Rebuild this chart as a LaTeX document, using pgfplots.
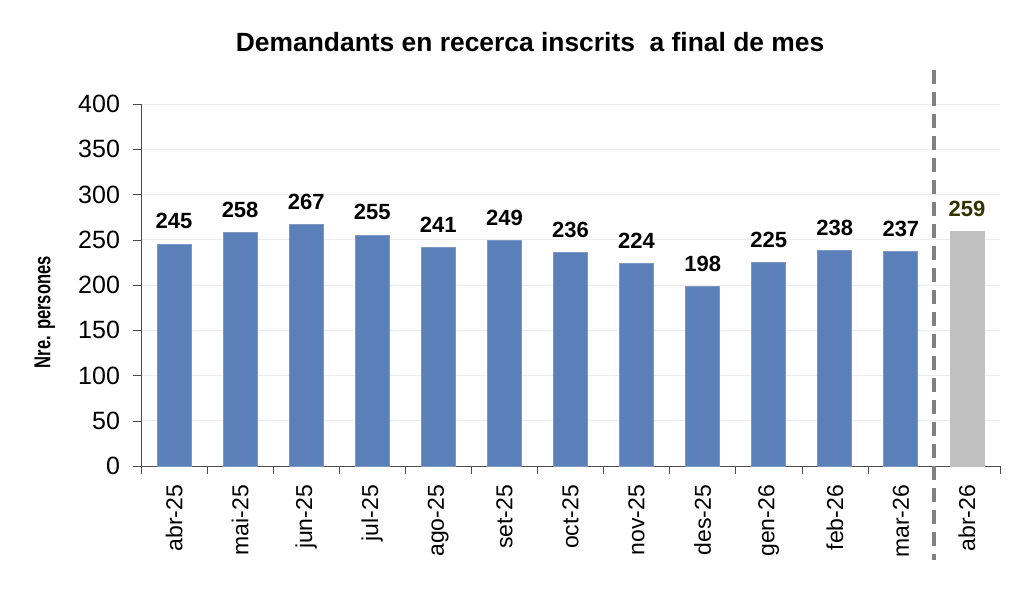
\documentclass[border=0pt]{standalone}
\usepackage{graphicx}
\usepackage{pgfplots}
\pgfplotsset{compat=1.18}
\usepackage{fontspec}
\setmainfont{Liberation Sans}
\definecolor{barblue}{HTML}{5B7FB8}
\definecolor{bargray}{HTML}{C0C0C0}
\definecolor{lblolive}{HTML}{333300}
\definecolor{dashgray}{HTML}{808080}
\begin{document}
\begin{tikzpicture}
\useasboundingbox (-70.5pt,-71pt) rectangle (446.5pt,233pt);
\begin{axis}[
  scale only axis,
  width=429.5pt, height=181pt,
  xmin=-0.5, xmax=12.5,
  ymin=0, ymax=400,
  ytick={0,50,...,400},
  xtick={-0.5,0.5,...,12.5},
  x tick label as interval,
  xticklabels={abr-25,mai-25,jun-25,jul-25,ago-25,set-25,oct-25,nov-25,des-25,gen-26,feb-26,mar-26,abr-26},
  x tick label style={rotate=90, anchor=east, font=\fontsize{11.5}{13}\selectfont, xshift=-2pt},
  y tick label style={font=\fontsize{12.5}{14}\selectfont, xshift=-3pt},
  /pgf/number format/assume math mode=true,
  axis x line*=bottom,
  axis y line*=left,
  axis line style={draw=black!70},
  tick style={draw=black!70},
  major tick length=4pt,
  tick align=outside,
  ymajorgrids,
  grid style={draw=black!7},
  ybar, bar width=17pt,
  ylabel={\scalebox{0.72}[1]{Nre. persones}},
  ylabel style={at={(axis description cs:-0.112,0.425)}, anchor=center, font=\bfseries\fontsize{11.5}{13}\selectfont},
  title={Demandants en recerca inscrits\ \ a final de mes},
  title style={at={(axis description cs:0.453,1)}, anchor=center, yshift=25pt, font=\bfseries\fontsize{13.2}{15}\selectfont},
  nodes near coords,
  nodes near coords style={font=\bfseries\fontsize{11}{13}\selectfont, yshift=4pt},
  clip=false,
]
\addplot[fill=barblue, draw=barblue!80!white, bar shift=0pt] coordinates {
(0,245) (1,258) (2,267) (3,255) (4,241) (5,249) (6,236) (7,224) (8,198) (9,225) (10,238) (11,237)};
\addplot[fill=bargray, draw=bargray, bar shift=0pt, nodes near coords style={text=lblolive}] coordinates {(12,259)};
\draw[dashgray, line width=2pt, dash pattern=on 7pt off 4pt] (axis cs:11.5,437.6) -- (axis cs:11.5,-103.9);
\end{axis}
\end{tikzpicture}
\end{document}
